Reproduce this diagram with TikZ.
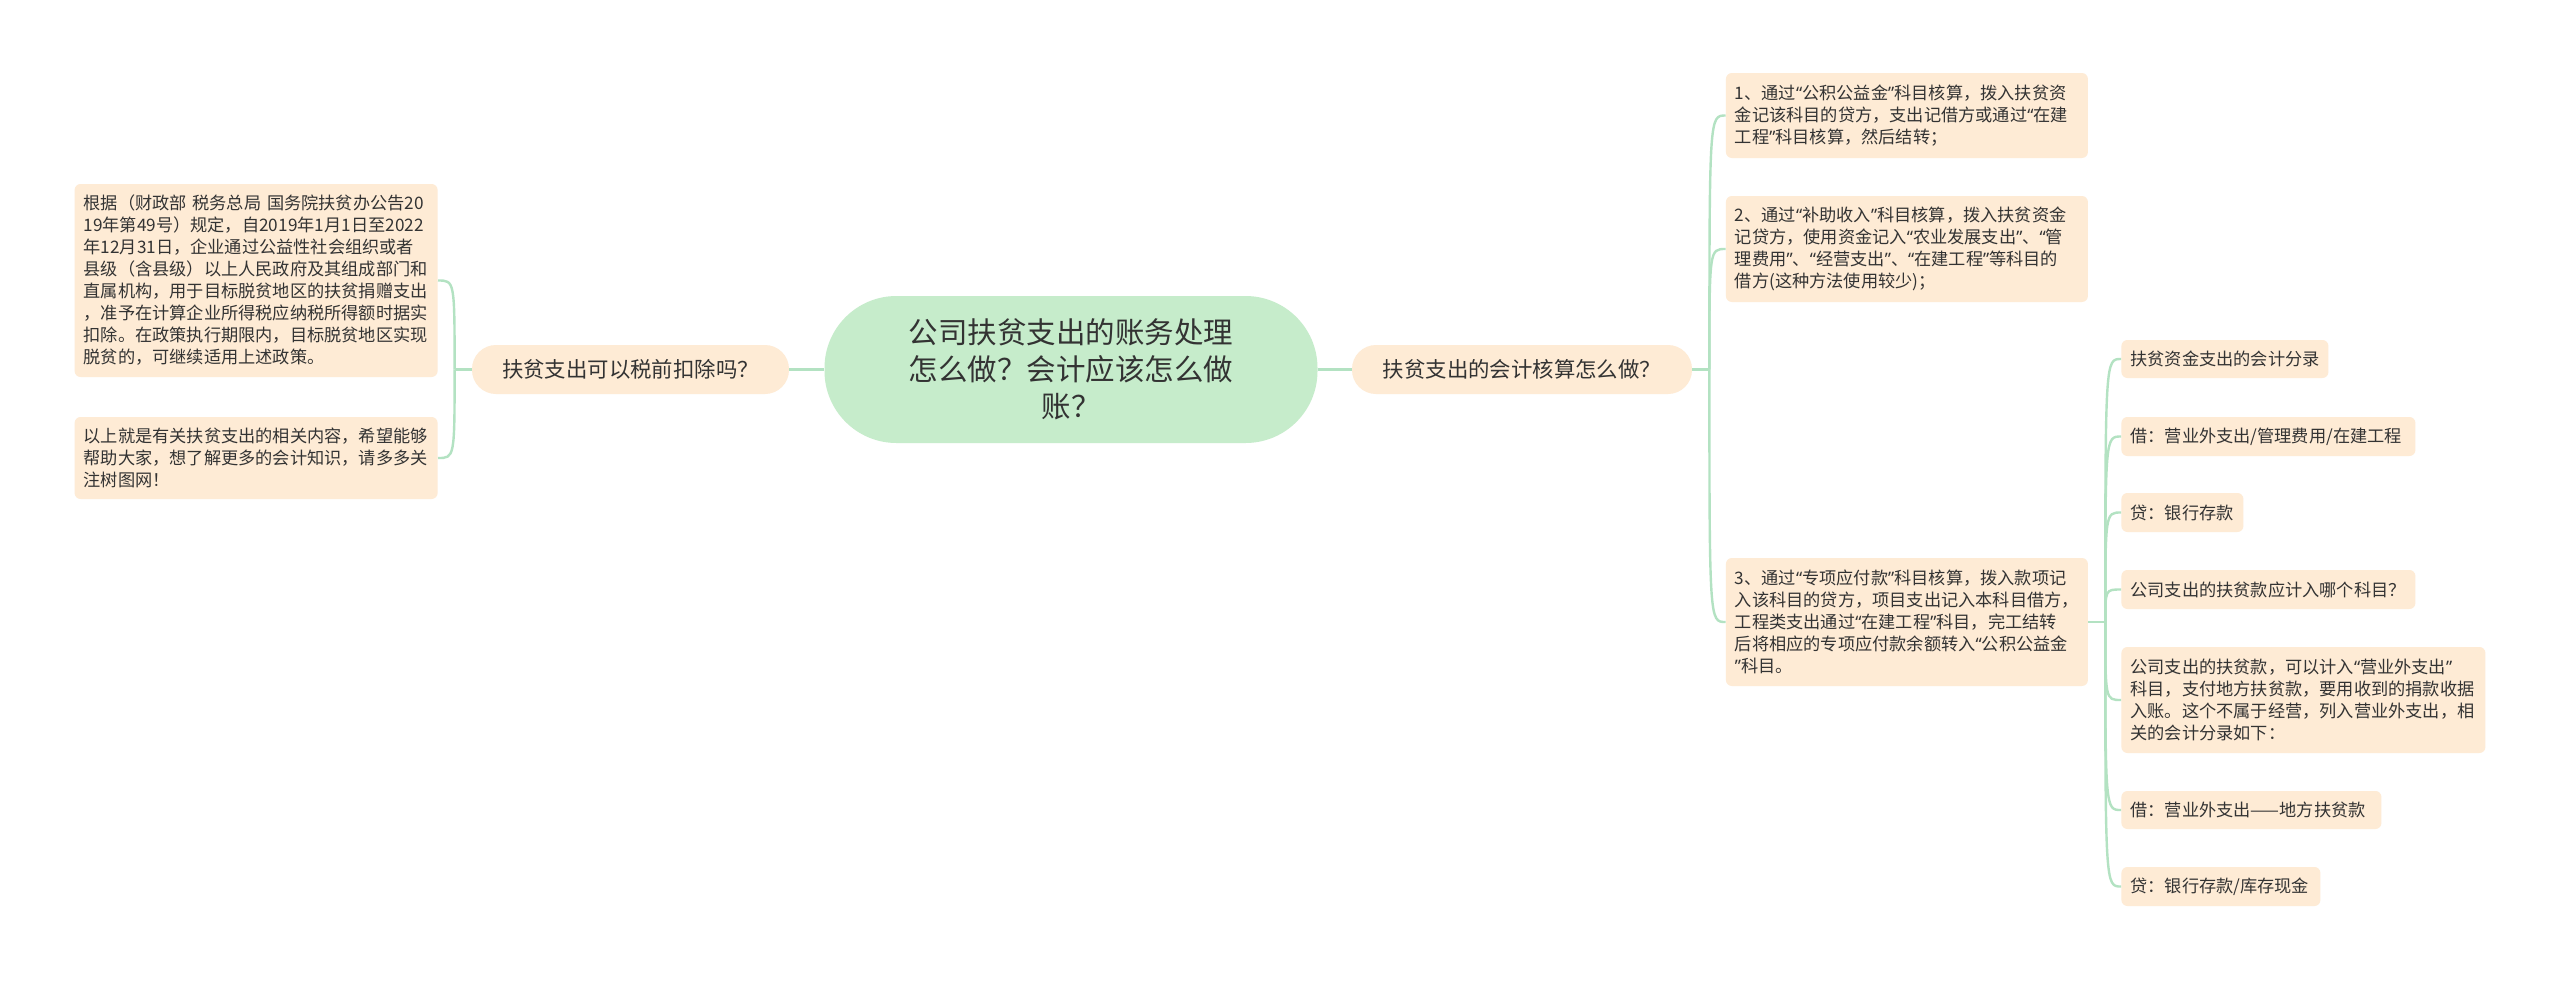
\documentclass[tikz,border=0pt]{standalone}
\usepackage{fontspec}
\setmainfont{Noto Sans CJK SC}
\newfontfamily\qfont{Noto Sans}
\newcommand{\qo}{{\qfont “}}
\newcommand{\qc}{{\qfont ”}}
\usetikzlibrary{calc}
\definecolor{peach}{HTML}{FEEBD5}
\definecolor{mint}{HTML}{C6ECCB}
\definecolor{wire}{HTML}{B3E2C2}
\definecolor{ink}{HTML}{333333}
\begin{document}
\begin{tikzpicture}[x=0.5pt,y=-0.5pt,
  leaf/.style={fill=peach, text=ink, rounded corners=3pt, inner xsep=4.5pt, inner ysep=0pt,
    align=left, anchor=west, font=\fontsize{8.6pt}{11pt}\selectfont},
  leafl/.style={leaf, anchor=east},
  topic/.style={fill=peach, text=ink, rounded corners=12pt, inner sep=0pt, minimum height=24.5pt,
    align=center, font=\fontsize{10.7pt}{13pt}\selectfont},
  hub/.style={fill=mint, text=ink, rounded corners=36pt, inner sep=0pt, minimum width=246.5pt,
    minimum height=73.5pt, align=center, font=\fontsize{14.75pt}{18.5pt}\selectfont},
  conn/.style={draw=wire, line width=1.2pt}
]
\useasboundingbox (0,0) rectangle (2560,981);
\fill[white] (0,0) rectangle (2560,981);

% central and first level
\node[hub] (c) at (1071,369.5) {公司扶贫支出的账务处理\\怎么做？会计应该怎么做\\账？};
\node[topic, minimum width=158.5pt] (ln) at (630.5,369.5) {扶贫支出可以税前扣除吗？};
\node[topic, minimum width=170pt] (rn) at (1522,369.5) {扶贫支出的会计核算怎么做？};

% left leaves
\node[leafl, text width=172.5pt, minimum height=96.5pt] (l1) at (438,280.5) {根据（财政部 税务总局 国务院扶贫办公告20\\19年第49号）规定，自2019年1月1日至2022\\年12月31日，企业通过公益性社会组织或者\\县级（含县级）以上人民政府及其组成部门和\\直属机构，用于目标脱贫地区的扶贫捐赠支出\\，准予在计算企业所得税应纳税所得额时据实\\扣除。在政策执行期限内，目标脱贫地区实现\\脱贫的，可继续适用上述政策。};
\node[leafl, text width=172.5pt, minimum height=41pt] (l2) at (438,458) {以上就是有关扶贫支出的相关内容，希望能够\\帮助大家，想了解更多的会计知识，请多多关\\注树图网！};

% right second level
\node[leaf, text width=172pt, minimum height=42.5pt] (r1) at (1725.5,115.5) {1、通过\qo 公积公益金\qc 科目核算，拨入扶贫资\\金记该科目的贷方，支出记借方或通过\qo 在建\\工程\qc 科目核算，然后结转；};
\node[leaf, text width=172pt, minimum height=53pt] (r2) at (1725.5,249) {2、通过\qo 补助收入\qc 科目核算，拨入扶贫资金\\记贷方，使用资金记入\qo 农业发展支出\qc 、\qo 管\\理费用\qc 、\qo 经营支出\qc 、\qo 在建工程\qc 等科目的\\借方(这种方法使用较少)；};
\node[leaf, text width=172pt, minimum height=64pt] (r3) at (1725.5,622) {3、通过\qo 专项应付款\qc 科目核算，拨入款项记\\入该科目的贷方，项目支出记入本科目借方，\\工程类支出通过\qo 在建工程\qc 科目，完工结转\\后将相应的专项应付款余额转入\qo 公积公益金\\\qc 科目。};

% third level
\node[leaf, text width=94.5pt, minimum height=19pt] (a) at (2121,359) {扶贫资金支出的会计分录};
\node[leaf, text width=138pt, minimum height=19.5pt] (b) at (2121,436.5) {借：营业外支出/管理费用/在建工程};
\node[leaf, text width=52pt, minimum height=19.5pt] (cc) at (2121,512.5) {贷：银行存款};
\node[leaf, text width=138pt, minimum height=19.5pt] (d) at (2121,589.5) {公司支出的扶贫款应计入哪个科目？};
\node[leaf, text width=173pt, minimum height=53pt] (e) at (2121,700) {公司支出的扶贫款，可以计入\qo 营业外支出\qc\\科目，支付地方扶贫款，要用收到的捐款收据\\入账。这个不属于经营，列入营业外支出，相\\关的会计分录如下：};
\node[leaf, text width=121pt, minimum height=19pt] (f) at (2121,810) {借：营业外支出——地方扶贫款};
\node[leaf, text width=90.5pt, minimum height=19.5pt] (g) at (2121,886.5) {贷：银行存款/库存现金};

% junction points
\coordinate (lj) at ($(ln.west)+(-17,0)$);
\coordinate (rj) at ($(rn.east)+(17,0)$);
\coordinate (tj) at ($(r3.east)+(17,0)$);

% connectors
\draw[conn] (c.west) -- (ln.east);
\draw[conn] (c.east) -- (rn.west);
\draw[conn] (ln.west) -- (lj);
\draw[conn] (rn.east) -- (rj);
\draw[conn] (r3.east) -- (tj);
\foreach \t in {l1,l2}
  \draw[conn] (lj) .. controls (lj |- \t.east) .. (\t.east);
\foreach \t in {r1,r2,r3}
  \draw[conn] (rj) .. controls (rj |- \t.west) .. (\t.west);
\foreach \t in {a,b,cc,d,e,f,g}
  \draw[conn] (tj) .. controls (tj |- \t.west) .. (\t.west);
\end{tikzpicture}
\end{document}
